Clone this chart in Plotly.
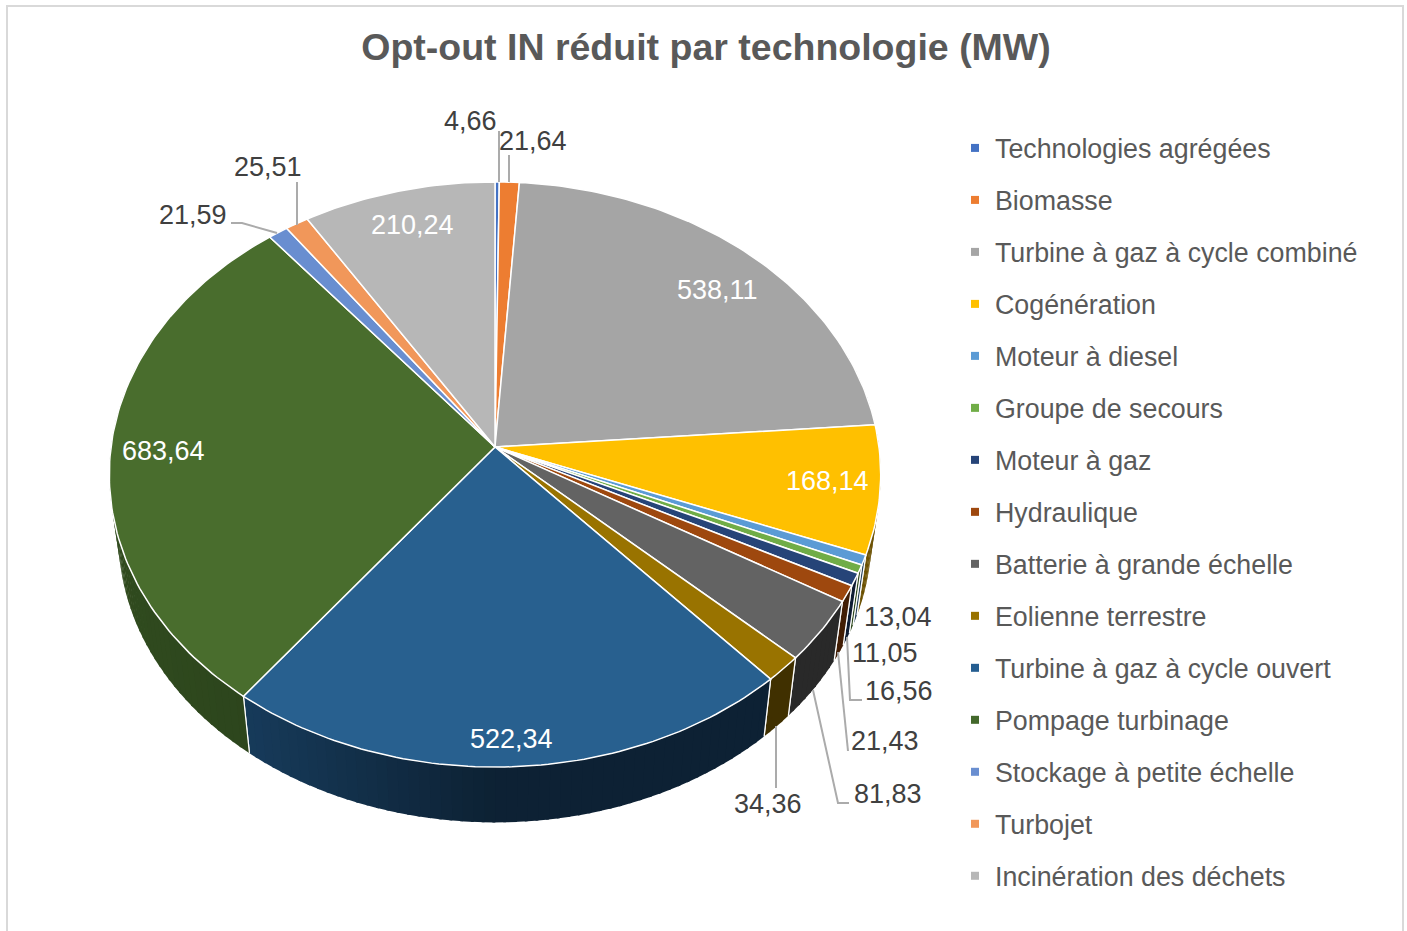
import math
import plotly.graph_objects as go

categories = ["Technologies agrégées", "Biomasse", "Turbine à gaz à cycle combiné", "Cogénération",
              "Moteur à diesel", "Groupe de secours", "Moteur à gaz", "Hydraulique",
              "Batterie à grande échelle", "Eolienne terrestre", "Turbine à gaz à cycle ouvert",
              "Pompage turbinage", "Stockage à petite échelle", "Turbojet", "Incinération des déchets"]
values = [4.66, 21.64, 538.11, 168.14, 13.04, 11.05, 16.56, 21.43, 81.83, 34.36, 522.34, 683.64, 21.59, 25.51, 210.24]
top_colors = ["#4472C4", "#ED7D31", "#A5A5A5", "#FFC000", "#5B9BD5", "#70AD47", "#264478", "#9E480E",
              "#636363", "#997300", "#28608F", "#496D2D", "#698ED0", "#F1975A", "#B7B7B7"]
legend_colors = ["#4472C4", "#ED7D31", "#A5A5A5", "#FFC000", "#5B9BD5", "#70AD47", "#264478", "#9E480E",
                 "#636363", "#997300", "#255E91", "#43682B", "#698ED0", "#F1975A", "#B7B7B7"]

# Data label placement (pixel space of the figure)
label_x = [470, 533, 717, 827, 898, 885, 899, 885, 888, 768, 511, 163, 193, 268, 412]
label_y = [121, 141, 290, 481, 617, 653, 691, 741, 794, 804, 739, 451, 215, 167, 225]
label_white = [False, False, True, True, False, False, False, False, False, False, True, True, False, False, True]

leader_x = [499, 499, None, 509, 509, None, 297, 297, None, 231, 242, 277, None,
            847, 850, 862, None, 838, 848, None, 813, 838, 849, None, 776, 776]
leader_y = [131, 182, None, 155, 182, None, 182, 225, None, 223, 223, 233, None,
            637, 700, 700, None, 652, 751, None, 690, 803, 803, None, 726, 788]

# Projection of the pie disc
CX, CY, R, K, P = 495.0, 447.0, 384.0, 290.0, 0.094
BOTTOM_SCALE, BOTTOM_CY = 0.976, 510.0


def rim(deg):
    a = math.radians(deg)
    X, Y = math.sin(a), -math.cos(a)
    d = 1 - P * Y
    return CX + R * X / d, CY + K * Y / d


def rim_bottom(deg):
    x, y = rim(deg)
    return CX + BOTTOM_SCALE * (x - CX), BOTTOM_CY + BOTTOM_SCALE * (y - CY)


def shade(hexcol, f):
    r, g, b = int(hexcol[1:3], 16), int(hexcol[3:5], 16), int(hexcol[5:7], 16)
    return "#%02x%02x%02x" % (int(r * f), int(g * f), int(b * f))


def wall_factor(name, x):
    if name == "Turbine à gaz à cycle ouvert":
        return 0.62 - 0.26 * min(1.0, max(0.0, (x - 250) / 240))
    if name == "Pompage turbinage":
        return 0.72 - 0.05 * min(1.0, max(0.0, (x - 120) / 125))
    return 0.42


total = sum(values)
fig = go.Figure()
starts, ends = [], []
c = 0.0
for v in values:
    starts.append(c / total * 360)
    c += v
    ends.append(c / total * 360)

# Side wall
for name, col, a0, a1 in zip(categories, legend_colors, starts, ends):
    lo, hi = max(a0, 70.0), min(a1, 290.0)
    if hi <= lo:
        continue
    n = max(1, int((hi - lo) / 1.5) + 1)
    for i in range(n):
        s0 = lo + (hi - lo) * i / n
        s1 = lo + (hi - lo) * (i + 1) / n
        s1x = min(hi, s1 + 0.4)
        fine = [s0 + (s1x - s0) * j / 3 for j in range(4)]
        top = [rim(t) for t in fine]
        bot = [rim_bottom(t) for t in reversed(fine)]
        pts = top + bot + [top[0]]
        fc = shade(col, wall_factor(name, 0.5 * (top[0][0] + top[-1][0])))
        fig.add_trace(go.Scatter(x=[p[0] for p in pts], y=[p[1] for p in pts], mode="lines",
                                 fill="toself", fillcolor=fc, line=dict(width=0),
                                 showlegend=False, hoverinfo="skip"))
    # white separator between wall pieces
    for a in (a0, a1):
        if 100 < a < 250:
            p, q = rim(a), rim_bottom(a)
            fig.add_trace(go.Scatter(x=[p[0], q[0]], y=[p[1], q[1]], mode="lines",
                                     line=dict(color="#FFFFFF", width=1.2),
                                     showlegend=False, hoverinfo="skip"))

# Top wedges
for name, col, a0, a1, v in zip(categories, top_colors, starts, ends, values):
    n = max(2, int((a1 - a0) / 1.0) + 1)
    pts = [rim(a0 + (a1 - a0) * i / n) for i in range(n + 1)]
    xs = [CX] + [p[0] for p in pts] + [CX]
    ys = [CY] + [p[1] for p in pts] + [CY]
    fig.add_trace(go.Scatter(x=xs, y=ys, mode="lines", fill="toself", fillcolor=col,
                             line=dict(color="#FFFFFF", width=1.5), name=name,
                             text=f"{name}: {v}".replace(".", ","), hoverinfo="text",
                             showlegend=False))

# Leader lines
fig.add_trace(go.Scatter(x=leader_x, y=leader_y, mode="lines", line=dict(color="#ABABAB", width=2),
                         showlegend=False, hoverinfo="skip"))

# Legend entries
for name, col in zip(categories, legend_colors):
    fig.add_trace(go.Scatter(x=[None], y=[None], mode="markers", name=name, legendgroup=name,
                             marker=dict(symbol="square", size=8, color=col)))

annotations = []
for v, x, y, w in zip(values, label_x, label_y, label_white):
    annotations.append(dict(x=x, y=y, xref="x", yref="y", text=f"{v:.2f}".replace(".", ","), showarrow=False,
                            xanchor="center", yanchor="middle",
                            font=dict(family="Liberation Sans", size=27, color="#FFFFFF" if w else "#404040")))

fig.update_layout(
    width=1407, height=931, margin=dict(l=0, r=0, t=0, b=0, autoexpand=False),
    paper_bgcolor="#FFFFFF", plot_bgcolor="#FFFFFF",
    xaxis=dict(range=[0, 1407], visible=False, fixedrange=True),
    yaxis=dict(range=[931, 0], visible=False, fixedrange=True),
    title=dict(text="<b>Opt-out IN réduit par technologie (MW)</b>", x=706 / 1407, xanchor="center",
               y=1 - 47 / 931, yanchor="middle",
               font=dict(family="Liberation Sans", size=37.5, color="#595959")),
    legend=dict(x=955 / 1407, y=1 - 124 / 931, xanchor="left", yanchor="top", traceorder="grouped", maxheight=900,
                tracegroupgap=14.15, font=dict(family="Liberation Sans", size=26.8, color="#595959"),
                bgcolor="rgba(0,0,0,0)", itemclick=False, itemdoubleclick=False),
    annotations=annotations,
    shapes=[dict(type="rect", xref="x", yref="y", x0=7, x1=1403, y0=6, y1=960,
                 line=dict(color="#D9D9D9", width=2), fillcolor="rgba(0,0,0,0)", layer="below")],
    showlegend=True,
)
fig.write_html("out.html", config=dict(displayModeBar=False),
               post_script="document.body.style.margin='0';document.body.style.overflow='hidden';")
